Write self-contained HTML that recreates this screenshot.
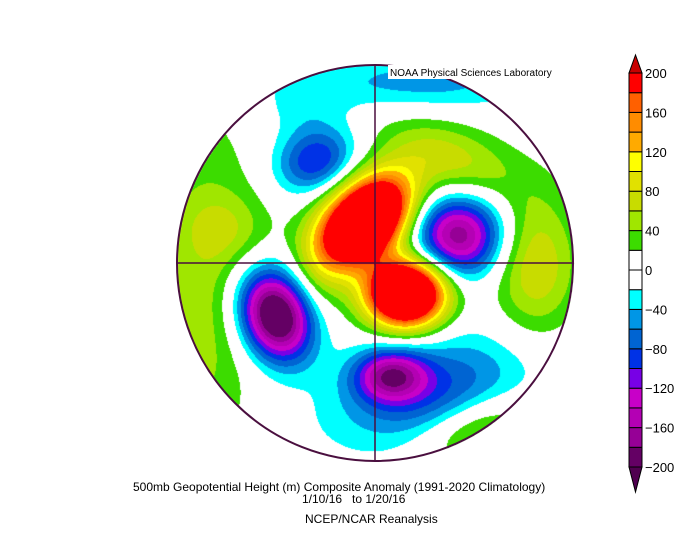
<!DOCTYPE html>
<html><head><meta charset="utf-8"><style>
body{margin:0;background:#fff;width:700px;height:542px;overflow:hidden;position:relative;font-family:"Liberation Sans",sans-serif}
canvas{position:absolute;left:0;top:0}
.t{position:absolute;font-size:12px;color:#000;white-space:nowrap}
</style></head><body>
<canvas id="map" width="700" height="542"></canvas>
<svg width="700" height="542" style="position:absolute;left:0;top:0">
<g id="cb"></g>
<line x1="177" y1="263" x2="573" y2="263" stroke="#4a0f3f" stroke-width="1.5"/>
<line x1="375" y1="65" x2="375" y2="461" stroke="#4a0f3f" stroke-width="1.5"/>
<circle cx="375" cy="263" r="198" fill="none" stroke="#4a0f3f" stroke-width="2"/>
<rect x="388" y="65" width="182" height="14" fill="#fff"/>
<text x="390" y="76" font-size="10" font-family="Liberation Sans, sans-serif">NOAA Physical Sciences Laboratory</text>
</svg>
<div class="t" style="left:133px;top:480px">500mb Geopotential Height (m) Composite Anomaly (1991-2020 Climatology)</div>
<div class="t" style="left:302px;top:492px">1/10/16&nbsp;&nbsp; to 1/20/16</div>
<div class="t" style="left:305px;top:512px">NCEP/NCAR Reanalysis</div>
<script>
// colorbar data
const levels=[-200,-180,-160,-140,-120,-100,-80,-60,-40,-20,0,20,40,60,80,100,120,140,160,180,200];
const levelColors=["#640064","#960096","#b400b4","#c800c8","#7800e6","#0032e6","#0064d2","#0096e6","#00ffff","#ffffff","#ffffff","#3cdc00","#a0e600","#c8dc00","#e1e100","#ffff00","#ffaa00","#ff8c00","#ff6000","#ff0000"];
const tickLabels=[-200,-160,-120,-80,-40,0,40,80,120,160,200];
// anomaly centers (page px), amplitude (m), spreads, rotation
const blobX=[365,405,458,275,390,430,315,420,450,535,225,195,475,300,215,320];
const blobY=[220,293,235,315,375,390,160,82,158,265,228,330,428,105,270,265];
const blobAmp=[400,380,-175,-240,-140,-80,-100,-50,70,80,35,25,60,-25,30,35];
const blobSx=[36,27,31,24,25,70,28,80,50,30,30,30,40,30,40,20];
const blobSy=[24,23,28,32,18,35,22,20,25,50,25,120,20,25,130,35];
const blobRot=[-45,0,0,-20,0,-15,-20,0,20,0,0,0,-20,0,0,0];
const cb={x:629,w:13,top:73,bot:467};
const svgNS="http://www.w3.org/2000/svg";
const g=document.getElementById('cb');
const vy=v=>cb.bot-(v-levels[0])/(levels[levels.length-1]-levels[0])*(cb.bot-cb.top);
for(let i=0;i<levelColors.length;i++){
 const r=document.createElementNS(svgNS,'rect');
 r.setAttribute('x',cb.x);r.setAttribute('y',vy(levels[i+1]));r.setAttribute('width',cb.w);r.setAttribute('height',vy(levels[i])-vy(levels[i+1]));
 r.setAttribute('fill',levelColors[i]);r.setAttribute('stroke','#000');r.setAttribute('stroke-width','1');
 
 
 g.appendChild(r);
}
const up=document.createElementNS(svgNS,'polygon');
up.setAttribute('points',`${cb.x},${cb.top} ${cb.x+cb.w},${cb.top} ${cb.x+cb.w/2},${cb.top-18}`);
up.setAttribute('fill','#c80000');up.setAttribute('stroke','#000');


g.appendChild(up);
const dn=document.createElementNS(svgNS,'polygon');
dn.setAttribute('points',`${cb.x},${cb.bot} ${cb.x+cb.w},${cb.bot} ${cb.x+cb.w/2},${cb.bot+25}`);
dn.setAttribute('fill','#500050');dn.setAttribute('stroke','#000');


g.appendChild(dn);
tickLabels.forEach(v=>{
 const t=document.createElementNS(svgNS,'text');
 t.setAttribute('x',cb.x+cb.w+3);t.setAttribute('y',vy(v)+5);t.setAttribute('font-size','13');
 t.setAttribute('font-family','Liberation Sans, sans-serif');
 t.textContent=v<0?'\u2212'+(-v):String(v);
 
 
 g.appendChild(t);
});
// field
const ctx=document.getElementById('map').getContext('2d');
const img=ctx.createImageData(700,542);
const cols=levelColors.map(h=>[parseInt(h.substr(1,2),16),parseInt(h.substr(3,2),16),parseInt(h.substr(5,2),16)]);
const pre=blobX.map((_,i)=>{const a=blobRot[i]*Math.PI/180;return [Math.cos(a),Math.sin(a)];});
for(let y=64;y<463;y++)for(let x=176;x<575;x++){
 const dx0=x-375,dy0=y-263;if(dx0*dx0+dy0*dy0>198*198)continue;
 let v=0;
 for(let i=0;i<blobX.length;i++){
  const dx=x-blobX[i],dy=y-blobY[i];
  const u=dx*pre[i][0]+dy*pre[i][1],w=-dx*pre[i][1]+dy*pre[i][0];
  v+=blobAmp[i]*Math.exp(-0.5*(u*u/(blobSx[i]*blobSx[i])+w*w/(blobSy[i]*blobSy[i])));
 }
 let k=Math.floor((v-levels[0])/20);k=Math.max(0,Math.min(cols.length-1,k));
 const c=cols[k],p=(y*700+x)*4;
 img.data[p]=c[0];img.data[p+1]=c[1];img.data[p+2]=c[2];img.data[p+3]=255;
}
ctx.putImageData(img,0,0);
</script>
</body></html>
